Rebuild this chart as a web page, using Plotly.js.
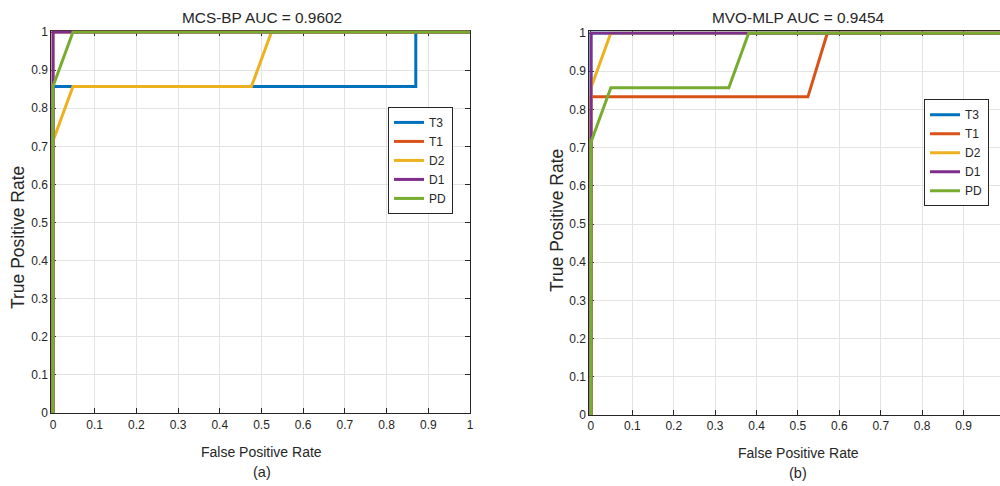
<!DOCTYPE html>
<html><head><meta charset="utf-8">
<script src="https://cdn.plot.ly/plotly-3.0.1.min.js"></script>
<style>body{margin:0;padding:0;background:#fff}#chart{width:1000px;height:486px}</style>
</head><body><div id="chart"></div>
<script>
// Panel (a) MCS-BP
var seriesNames = ["T3","T1","D2","D1","PD"];
var colors = ["#0072BD","#D95319","#EDB120","#7E2F8E","#77AC30"];
var a_T3_x = [0, 0, 0.870, 0.870, 1];
var a_T3_y = [0, 0.857, 0.857, 1, 1];
var a_T1_x = [0, 0, 1];
var a_T1_y = [0, 1, 1];
var a_D2_x = [0, 0, 0.048, 0.476, 0.524, 1];
var a_D2_y = [0, 0.714, 0.857, 0.857, 1, 1];
var a_D1_x = [0, 0, 1];
var a_D1_y = [0, 1, 1];
var a_PD_x = [0, 0, 0.048, 1];
var a_PD_y = [0, 0.857, 1, 1];
// Panel (b) MVO-MLP
var b_T3_x = [0, 0, 1];
var b_T3_y = [0, 1, 1];
var b_T1_x = [0, 0, 0.524, 0.571, 1];
var b_T1_y = [0, 0.833, 0.833, 1, 1];
var b_D2_x = [0, 0, 0.048, 1];
var b_D2_y = [0, 0.857, 1, 1];
var b_D1_x = [0, 0, 1];
var b_D1_y = [0, 1, 1];
var b_PD_x = [0, 0, 0.048, 0.333, 0.381, 1];
var b_PD_y = [0, 0.714, 0.857, 0.857, 1, 1];
var tickVals = [0,0.1,0.2,0.3,0.4,0.5,0.6,0.7,0.8,0.9,1];
var tickText = ["0","0.1","0.2","0.3","0.4","0.5","0.6","0.7","0.8","0.9","1"];

var aX=[a_T3_x,a_T1_x,a_D2_x,a_D1_x,a_PD_x], aY=[a_T3_y,a_T1_y,a_D2_y,a_D1_y,a_PD_y];
var bX=[b_T3_x,b_T1_x,b_D2_x,b_D1_x,b_PD_x], bY=[b_T3_y,b_T1_y,b_D2_y,b_D1_y,b_PD_y];
var traces=[];
for(var i=0;i<5;i++){
  traces.push({x:aX[i],y:aY[i],name:seriesNames[i],type:'scatter',mode:'lines',
    line:{color:colors[i],width:3},xaxis:'x',yaxis:'y',legend:'legend',cliponaxis:false});
}
for(var i=0;i<5;i++){
  traces.push({x:bX[i],y:bY[i],name:seriesNames[i],type:'scatter',mode:'lines',
    line:{color:colors[i],width:3},xaxis:'x2',yaxis:'y2',legend:'legend2',cliponaxis:false});
}
var txt="#262626";
var fam="Liberation Sans, Arial, sans-serif";
var fnt={family:fam,size:12,color:txt};
function ax(extra){
  var o={showline:true,linecolor:txt,linewidth:1,ticks:'inside',ticklen:5,tickcolor:txt,
    showgrid:true,gridcolor:'#e3e3e3',gridwidth:1,zeroline:false,tickfont:fnt,layer:'below traces',
    tickvals:tickVals,ticktext:tickText,mirror:'ticks',fixedrange:true};
  for(var k in extra)o[k]=extra[k];return o;
}
function ann(t,x,ypx,size,angle){
  return {text:t,x:x,y:1-ypx/486,xref:'paper',yref:'paper',xanchor:'center',yanchor:'middle',
    showarrow:false,textangle:angle||0,font:{family:fam,size:size,color:txt}};
}
var layout={
  width:1000,height:486,margin:{l:0,r:0,t:0,b:0},paper_bgcolor:'#fff',plot_bgcolor:'#fff',
  font:fnt,showlegend:true,
  xaxis:ax({domain:[0.0513,0.470],range:[-0.004,1],anchor:'y'}),
  yaxis:ax({domain:[0.150,0.9372],range:[0,1.004],anchor:'x'}),
  xaxis2:ax({domain:[0.5893,1.0],range:[-0.004,0.988],anchor:'y2'}),
  yaxis2:ax({domain:[0.146,0.9352],range:[0,1.004],anchor:'x2',mirror:false}),
  legend:{x:0.388,y:0.780,xanchor:'left',yanchor:'top',bordercolor:txt,borderwidth:1,
    bgcolor:'#fff',font:fnt,tracegroupgap:0,itemwidth:30},
  legend2:{x:0.924,y:0.796,xanchor:'left',yanchor:'top',bordercolor:txt,borderwidth:1,
    bgcolor:'#fff',font:fnt,tracegroupgap:0,itemwidth:30},
  annotations:[
    ann("MCS-BP AUC = 0.9602",0.2615,18,15.4),
    ann("MVO-MLP AUC = 0.9454",0.798,18,15.4),
    ann("False Positive Rate",0.2615,452,14),
    ann("False Positive Rate",0.798,453,14),
    ann("(a)",0.2615,472,14.5),
    ann("(b)",0.798,473,14.5),
    ann("True Positive Rate",18/1000,238,17.5,-90),
    ann("True Positive Rate",557/1000,221,17.5,-90)
  ]
};
Plotly.newPlot('chart',traces,layout,{staticPlot:true,displayModeBar:false});
</script></body></html>
